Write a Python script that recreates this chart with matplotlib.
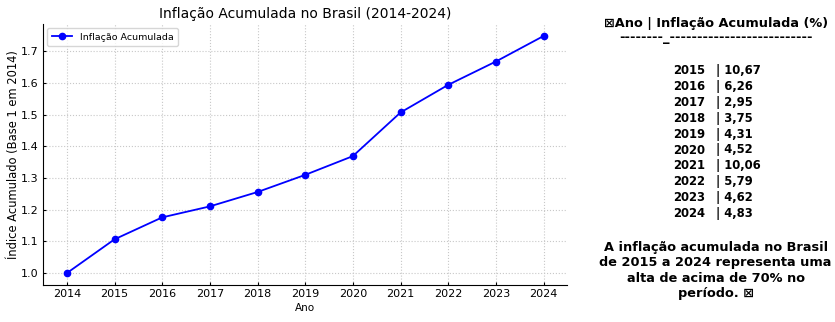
import matplotlib.pyplot as plt

# Inflação anual (IPCA, %) de 2015 a 2024
anos = [2014, 2015, 2016, 2017, 2018, 2019, 2020, 2021, 2022, 2023, 2024]
inflacao_anual = [10.67, 6.26, 2.95, 3.75, 4.31, 4.52, 10.06, 5.79, 4.62, 4.83]
rotulos_inflacao = ["10,67", "6,26", "2,95", "3,75", "4,31", "4,52", "10,06", "5,79", "4,62", "4,83"]

# Índice acumulado, base 1 em 2014
indice = [1.0]
for taxa in inflacao_anual:
    indice.append(indice[-1] * (1 + taxa / 100))

fig = plt.figure(figsize=(8.35, 3.22), dpi=100)
ax = fig.add_axes([0.0515, 0.115, 0.628, 0.81])

ax.plot(anos, indice, color="blue", marker="o", markersize=4.5, linewidth=1.3,
        label="Inflação Acumulada")
ax.set_title("Inflação Acumulada no Brasil (2014-2024)", fontsize=10, pad=4.5)
ax.set_xlabel("Ano", fontsize=7.5, labelpad=3)
ax.set_ylabel("Índice Acumulado (Base 1 em 2014)", fontsize=8.3, labelpad=1)
ax.set_xticks(anos)
ax.tick_params(labelsize=8, length=2.5, pad=3, direction="in")
ax.grid(True, linestyle=":", color="#c8c8c8", linewidth=0.8)
ax.spines["top"].set_visible(False)
ax.spines["right"].set_visible(False)
ax.legend(loc="upper left", fontsize=6.8, frameon=True, edgecolor="#cccccc",
          handlelength=2.2, borderpad=0.5, borderaxespad=0.4)

# Tabela de texto ao lado do gráfico
fonte = ["DejaVu Sans"]
tam = 9.3
fig.text(0.857, 1 - 26.5 / 322, "\u22a0Ano | Inflação Acumulada (%)", ha="center",
         va="baseline", fontsize=tam, fontweight="bold", family=fonte)
fig.text(0.857, 1 - 41 / 322, "--------_--------------------------", ha="center",
         va="baseline", fontsize=tam, fontweight="bold", family=fonte)

y0 = 1 - 74 / 322
passo = 15.9 / 322
for i, (ano, rot) in enumerate(zip(anos[1:], rotulos_inflacao)):
    y = y0 - i * passo
    fig.text(0.806, y, str(ano), ha="left", va="baseline", fontsize=8.4,
             fontweight="bold", family=fonte)
    fig.text(0.857, y, "| " + rot, ha="left", va="baseline", fontsize=8.4,
             fontweight="bold", family=fonte)

fig.text(0.857, 1 - 270.5 / 322,
         "A inflação acumulada no Brasil\nde 2015 a 2024 representa uma\n"
         "alta de acima de 70% no\nperíodo. \u22a0",
         ha="center", va="center", fontsize=tam, fontweight="bold", family=fonte,
         linespacing=1.25)

fig.savefig("out.png", dpi=100)
